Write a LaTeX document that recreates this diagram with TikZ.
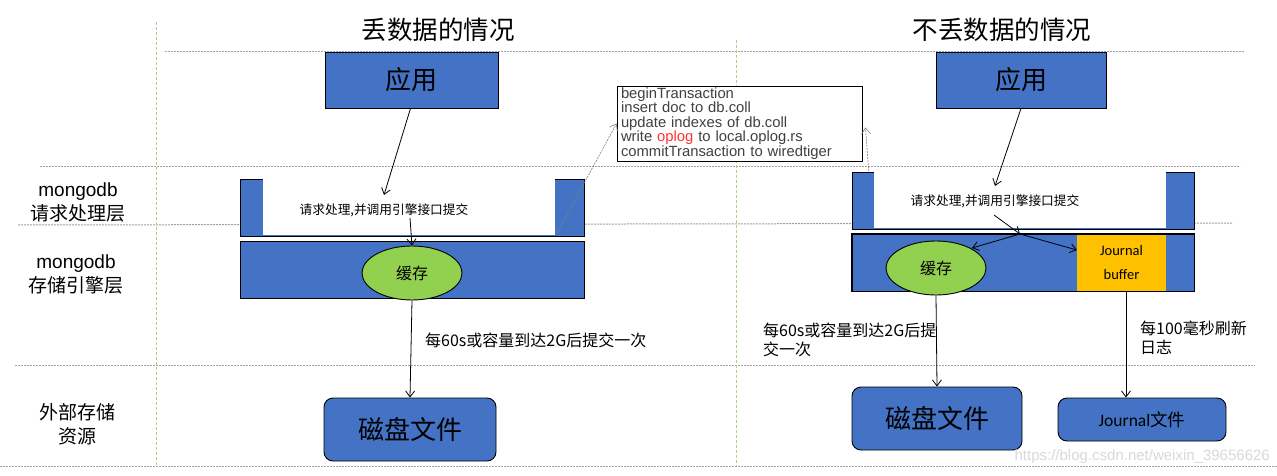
\documentclass[tikz,border=0pt]{standalone}
\usepackage{fontspec}
\setmainfont{Liberation Sans}
\newfontfamily\cjk{Noto Sans CJK SC}
\newfontfamily\calfont{Carlito}
\usetikzlibrary{arrows.meta,shapes.geometric}
\definecolor{mblue}{HTML}{4472C4}
\definecolor{mgreen}{HTML}{92D050}
\definecolor{morange}{HTML}{FFC000}
\definecolor{gridgray}{HTML}{A0A0A0}
\definecolor{vgreen}{HTML}{A9D18E}
\definecolor{notegray}{HTML}{404040}
\definecolor{oplogred}{HTML}{FF3333}
\begin{document}
\begin{tikzpicture}[x=1pt,y=-1pt,
  hline/.style={gridgray, line width=1pt, dash pattern=on 2pt off 1pt},
  vline/.style={vgreen, line width=1pt, dash pattern=on 3pt off 2pt},
  bluebox/.style={draw=black, fill=mblue, line width=0.9pt, inner sep=0pt},
  roundbox/.style={bluebox, rounded corners=9pt},
  whitein/.style={fill=white, draw=none, inner sep=0pt},
  cache/.style={ellipse, draw=black, fill=mgreen, line width=0.9pt, inner sep=0pt, minimum width=100pt, minimum height=54pt},
  arr/.style={-{Straight Barb[length=6pt,width=9pt]}, line width=0.8pt, black},
  grayarr/.style={-{Straight Barb[length=6pt,width=9pt]}, line width=0.6pt, gray, dash pattern=on 2pt off 1pt},
  sidelabel/.style={align=center, font=\fontsize{19}{24}\selectfont},
  txt/.style={inner sep=0pt, font=\cjk\fontsize{12.7}{15}\selectfont},
  lbl/.style={inner sep=0pt, align=left, anchor=west, font=\cjk\fontsize{16}{19}\selectfont},
  title/.style={inner sep=0pt, font=\cjk\fontsize{25.5}{30}\selectfont}
]
\useasboundingbox (0,0) rectangle (1277,476);
\fill[white] (0,0) rectangle (1277,476);

% grid lines
\draw[hline] (165,52) -- (1245,52);
\draw[hline] (40,166) -- (1240,166);
\draw[hline] (18,225) -- (1232,223);
\draw[hline] (15,365) -- (1255,365);
\draw[hline] (0,466) -- (1277,466);
\draw[vline] (156,22) -- (156,466);
\draw[vline] (736,40) -- (736,466);

% titles
\node[title] (t1) at (438,30) {丢数据的情况};
\node[title] (t2) at (1002,30) {不丢数据的情况};

% side labels
\node[sidelabel] (s1) at (78,202) {mongodb\\\cjk 请求处理层};
\node[sidelabel] (s2) at (76,274) {mongodb\\\cjk 存储引擎层};
\node[sidelabel] (s3) at (77,424) {\cjk 外部存储\\\cjk 资源};

% ===== left part =====
\node[bluebox, minimum width=173pt, minimum height=56pt, font=\cjk\fontsize{26}{30}\selectfont] (appL) at (411.5,80) {应用};
\node[bluebox, minimum width=344pt, minimum height=57pt] (reqL) at (412,207.5) {};
\node[whitein, minimum width=292pt, minimum height=57pt] (reqLin) at (409,206.9) {};
\node[txt] (reqLt) at (384,210) {请求处理,并调用引擎接口提交};
\node[bluebox, minimum width=344pt, minimum height=57pt] (stoL) at (412,269.5) {};
\node[cache, font=\cjk\fontsize{16}{18}\selectfont] (cacheL) at (412,273) {缓存};
\node[roundbox, minimum width=172pt, minimum height=63pt, font=\cjk\fontsize{26}{30}\selectfont] (diskL) at (410,429.5) {磁盘文件};
\node[lbl] (l1) at (425,340) {每60s或容量到达2G后提交一次};

\coordinate (aL1) at (384,195);
\coordinate (aL2) at (410,218);
\draw[arr] (appL.south) ++(-1,0) -- (aL1);
\draw[arr] (aL2) -- (cacheL.north);
\draw[arr] (cacheL.south) -- (diskL.north);

% note
\node[draw=black, fill=white, line width=0.9pt, inner xsep=4pt, inner ysep=1pt,
      text width=237pt, minimum height=75pt, align=left, text=notegray,
      font=\fontsize{14.8}{14.5}\selectfont] (note) at (739.5,123.5)
  {beginTransaction\\insert doc to db.coll\\update indexes of db.coll\\write \textcolor{oplogred}{oplog} to local.oplog.rs\\commitTransaction to wiredtiger};
\coordinate (gL) at (557,233);
\coordinate (gR) at (873,228);
\draw[grayarr] (gL) -- (note.west);
\draw[grayarr] (gR) -- ([xshift=3pt,yshift=-4pt]note.east);

% ===== right part =====
\node[bluebox, minimum width=170pt, minimum height=56pt, font=\cjk\fontsize{26}{30}\selectfont] (appR) at (1021,80) {应用};
\node[bluebox, minimum width=342pt, minimum height=57pt] (reqR) at (1023,200.5) {};
\node[whitein, minimum width=292pt, minimum height=57pt] (reqRin) at (1020,199.9) {};
\node[txt] (reqRt) at (995,201) {请求处理,并调用引擎接口提交};
\node[bluebox, minimum width=342pt, minimum height=57pt] (stoR) at (1023,262.5) {};
\node[fill=morange, inner sep=0pt, minimum width=89pt, minimum height=56pt, align=center,
      font=\calfont\fontsize{14.5}{24}\selectfont] (jbuf) at (1121.5,262.5) {Journal\\buffer};
\draw[line width=0.9pt] (stoR.north west) rectangle (stoR.south east);
\node[cache, font=\cjk\fontsize{16}{18}\selectfont] (cacheR) at (936,268) {缓存};
\node[roundbox, minimum width=170pt, minimum height=63pt, font=\cjk\fontsize{26}{30}\selectfont] (diskR) at (937,418.5) {磁盘文件};
\node[roundbox, minimum width=168pt, minimum height=43pt, font=\fontsize{17.5}{20}\selectfont] (jfile) at (1142,419.5) {\calfont Journal\cjk 文件};
\node[lbl] (l2) at (763,340) {每60s或容量到达2G后提\\交一次};
\node[lbl] (l3) at (1140,338) {每100毫秒刷新\\日志};

\coordinate (aR1) at (995,186);
\coordinate (aR2) at (994,215);
\coordinate (junc) at (1020,234);
\coordinate (cR) at (972,248);
\draw[arr] (appR.south) -- (aR1);
\draw[arr] (aR2) -- (junc);
\draw[arr] (junc) -- (cR);
\draw[arr] (junc) -- ([yshift=12.5pt]jbuf.west);
\draw[arr] (cacheR.south) -- (diskR.north);
\draw[arr] ([xshift=4.5pt]jbuf.south) -- ([xshift=-16pt]jfile.north);

% watermark
\node[anchor=east, inner sep=0pt, text=gray!30, font=\fontsize{15}{17}\selectfont] (wm) at (1270,457) {https://blog.csdn.net/weixin\_39656626};
\end{tikzpicture}
\end{document}
